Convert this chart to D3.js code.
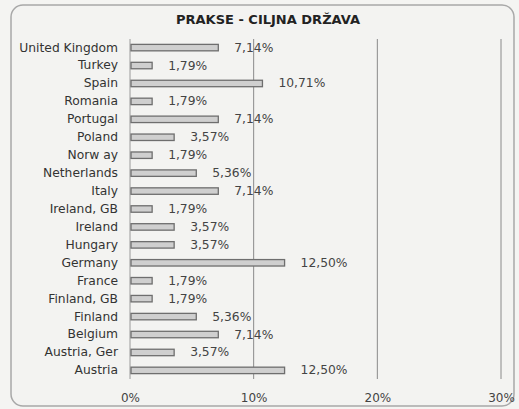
<!DOCTYPE html>
<html>
<head>
<meta charset="utf-8">
<script src="https://cdn.jsdelivr.net/npm/d3@7"></script>
<style>
  body { margin: 0; background: #f4f4f2; }
  text { font-family: "DejaVu Sans", Arial, sans-serif; }
</style>
</head>
<body>
<div id="chart"></div>
<script>
// data
const countries = ["United Kingdom", "Turkey", "Spain", "Romania", "Portugal", "Poland",
    "Norw ay", "Netherlands", "Italy", "Ireland, GB", "Ireland", "Hungary", "Germany",
    "France", "Finland, GB", "Finland", "Belgium", "Austria, Ger", "Austria"];
const shares = [7.14, 1.79, 10.71, 1.79, 7.14, 3.57, 1.79, 5.36, 7.14, 1.79, 3.57, 3.57,
    12.50, 1.79, 1.79, 5.36, 7.14, 3.57, 12.50];
const xTickValues = [0, 10, 20, 30];
const chartTitle = "PRAKSE - CILJNA DRŽAVA";

const width = 519;
const height = 409;
const margin = {t: 39, b: 30, l: 130, r: 18};

const svg = d3.select("#chart")
    .append("svg")
    .attr("width", width)
    .attr("height", height);

// outer frame
svg.append("rect")
    .attr("x", 11).attr("y", 5)
    .attr("width", width - 16).attr("height", height - 8)
    .attr("rx", 12)
    .attr("fill", "#f3f3f1")
    .attr("stroke", "#a8a8a8")
    .attr("stroke-width", 1.5);

svg.append("text")
    .attr("x", 268)
    .attr("y", 24)
    .attr("text-anchor", "middle")
    .attr("font-size", "13px")
    .attr("font-weight", "bold")
    .attr("fill", "#222")
    .text(chartTitle);

const xScale = d3.scaleLinear()
    .domain([0, 30])
    .range([margin.l, width - margin.r]);

const yScale = d3.scaleBand()
    .domain(countries)
    .range([margin.t, height - margin.b])
    .paddingInner(0.64)
    .paddingOuter(0.3);

// gridlines
svg.selectAll("line.grid")
    .data(xTickValues)
    .enter()
    .append("line")
    .attr("class", "grid")
    .attr("x1", d => xScale(d))
    .attr("x2", d => xScale(d))
    .attr("y1", margin.t)
    .attr("y2", height - margin.b)
    .attr("stroke", d => d === 0 ? "#9a9a9a" : "#8a8a8a")
    .attr("stroke-width", 1);

// x axis
const xAxis = d3.axisBottom(xScale)
    .tickValues(xTickValues)
    .tickSize(0)
    .tickPadding(14)
    .tickFormat(d => d + "%");
const gx = svg.append("g")
    .attr("transform", `translate(0, ${height - margin.b})`)
    .call(xAxis);
gx.select(".domain").remove();
gx.selectAll("text")
    .attr("font-family", "DejaVu Sans")
    .attr("font-size", "12px")
    .attr("fill", "#444");

// y axis
const yAxis = d3.axisLeft(yScale)
    .tickSize(0)
    .tickPadding(12);
const gy = svg.append("g")
    .attr("transform", `translate(${margin.l}, 0)`)
    .call(yAxis);
gy.select(".domain").remove();
gy.selectAll("text")
    .attr("font-family", "DejaVu Sans")
    .attr("font-size", "12.3px")
    .attr("fill", "#333");

// bars
svg.selectAll("rect.bar")
    .data(countries)
    .enter()
    .append("rect")
    .attr("class", "bar")
    .attr("x", xScale(0) + 1)
    .attr("y", d => yScale(d))
    .attr("height", yScale.bandwidth())
    .attr("width", (d, i) => xScale(shares[i]) - xScale(0) - 1)
    .attr("fill", "#cfcfcf")
    .attr("stroke", "#6e6e6e")
    .attr("stroke-width", 1.3);

// value labels
svg.selectAll("text.val")
    .data(countries)
    .enter()
    .append("text")
    .attr("class", "val")
    .attr("x", (d, i) => xScale(shares[i]) + 16)
    .attr("y", d => yScale(d) + yScale.bandwidth() / 2 + 4)
    .attr("font-size", "12.3px")
    .attr("fill", "#444")
    .text((d, i) => shares[i].toFixed(2).replace(".", ",") + "%");
</script>
</body>
</html>
